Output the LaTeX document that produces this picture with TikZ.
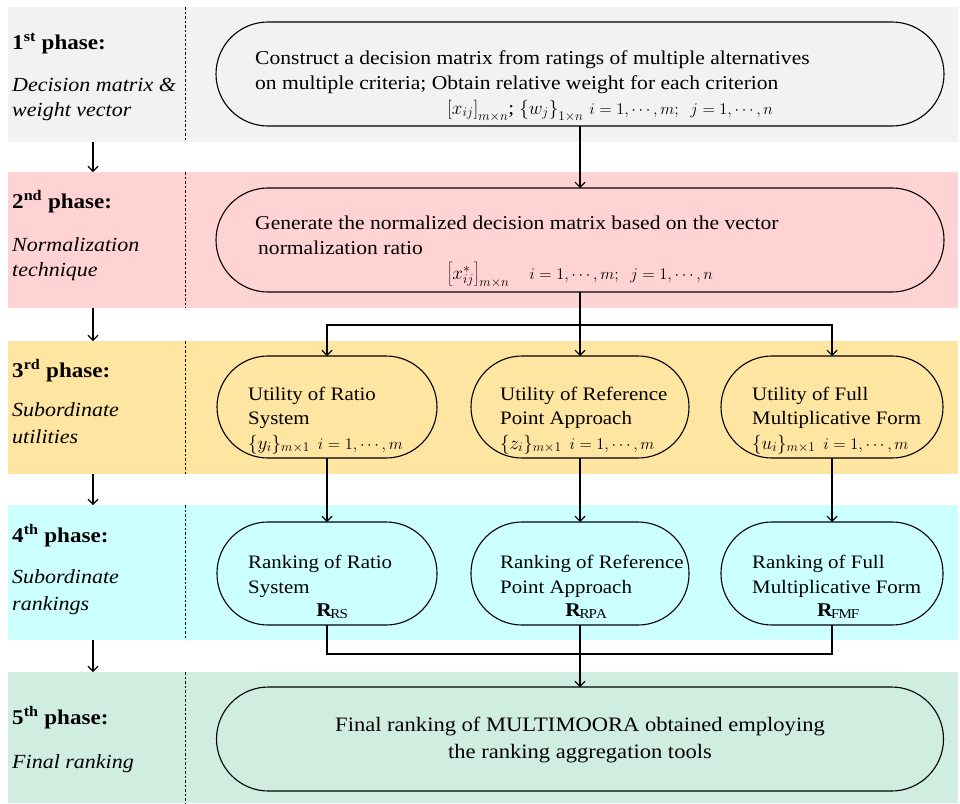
\RequirePackage{fix-cm}
\documentclass[tikz,border=0pt]{standalone}
\usepackage{fontspec}
\setmainfont{Liberation Serif}[FakeStretch=1.1]
\usetikzlibrary{arrows.meta}
\definecolor{bandgrey}{HTML}{F2F2F2}
\definecolor{bandpink}{HTML}{FFD3D4}
\definecolor{bandyellow}{HTML}{FFE5A2}
\definecolor{bandcyan}{HTML}{CCFFFF}
\definecolor{bandgreen}{HTML}{CFEEDF}
\newcommand{\idxsize}{\fontsize{16.3}{19}\selectfont}
\begin{document}
\begin{tikzpicture}[x=1pt,y=-1pt,
  band/.style={draw=none,inner sep=0pt,outer sep=0pt,anchor=north west,
    minimum width=950pt},
  pill/.style={draw=black,line width=1.1pt,inner sep=0pt,outer sep=0pt,
    rounded corners=#1},
  phase/.style={anchor=base west,inner sep=0pt,
    font=\fontsize{21}{24}\selectfont\bfseries},
  phasedesc/.style={anchor=base west,inner sep=0pt,
    font=\fontsize{20}{24}\selectfont\itshape},
  txt/.style={anchor=base west,inner sep=0pt,
    font=\fontsize{19}{22}\selectfont},
  wtxt/.style={txt,font=\fontsize{19.6}{22}\selectfont},
  mth/.style={anchor=base west,inner sep=0pt,
    font=\fontsize{19}{22}\selectfont},
  rlab/.style={anchor=base,inner sep=0pt,
    font=\fontsize{19.5}{22}\selectfont},
  conn/.style={line width=1.1pt},
  arr/.style={conn,-{Straight Barb[length=5pt,width=10pt]}},
  sep/.style={line width=0.6pt,dash pattern=on 2.5pt off 2pt}
]
\useasboundingbox (0,0) rectangle (960,803);

% phase bands
\node[band,fill=bandgrey,minimum height=135pt] (b1) at (8,7) {};
\node[band,fill=bandpink,minimum height=136pt] (b2) at (8,172) {};
\node[band,fill=bandyellow,minimum height=133pt] (b3) at (8,341) {};
\node[band,fill=bandcyan,minimum height=135pt] (b4) at (8,505) {};
\node[band,fill=bandgreen,minimum height=131pt] (b5) at (8,672) {};

% dashed separators between the label column and the flow column
\coordinate (dx) at (185,0);
\foreach \b in {b1,b2,b3,b4,b5}
  \draw[sep] (\b.north -| dx) -- (\b.south -| dx);

% arrows down the label column
\coordinate (lx) at (93,0);
\draw[arr] (b1.south -| lx) -- (b2.north -| lx);
\draw[arr] (b2.south -| lx) -- (b3.north -| lx);
\draw[arr] (b3.south -| lx) -- (b4.north -| lx);
\draw[arr] (b4.south -| lx) -- (b5.north -| lx);

% phase labels
\node[phase] (p1) at (12,49) {1\textsuperscript{st} phase:};
\node[phasedesc] (p1a) at (12,91) {Decision matrix \&};
\node[phasedesc] (p1b) at (12,116) {weight vector};

\node[phase] (p2) at (12,208) {2\textsuperscript{nd} phase:};
\node[phasedesc] (p2a) at (12,251) {Normalization};
\node[phasedesc] (p2b) at (12,276) {technique};

\node[phase] (p3) at (12,377) {3\textsuperscript{rd} phase:};
\node[phasedesc] (p3a) at (12,416) {Subordinate};
\node[phasedesc] (p3b) at (12,443) {utilities};

\node[phase] (p4) at (12,542) {4\textsuperscript{th} phase:};
\node[phasedesc] (p4a) at (12,583) {Subordinate};
\node[phasedesc] (p4b) at (12,610) {rankings};

\node[phase] (p5) at (12,724) {5\textsuperscript{th} phase:};
\node[phasedesc] (p5a) at (12,768) {Final ranking};

% process boxes
\node[pill=52pt,fill=bandgrey,minimum width=728pt,minimum height=104pt] (dm) at (580,74) {};
\node[pill=52pt,fill=bandpink,minimum width=728pt,minimum height=104pt] (nm) at (580,240) {};

\node[pill=51pt,fill=bandyellow,minimum width=220pt,minimum height=102pt] (ua) at (327,407) {};
\node[pill=51pt,fill=bandyellow,minimum width=218pt,minimum height=102pt] (ub) at (580,407) {};
\node[pill=51pt,fill=bandyellow,minimum width=222pt,minimum height=102pt] (uc) at (832,407) {};

\node[pill=51pt,fill=bandcyan,minimum width=220pt,minimum height=103pt] (ra) at (327,573.5) {};
\node[pill=51pt,fill=bandcyan,minimum width=218pt,minimum height=103pt] (rb) at (580,573.5) {};
\node[pill=51pt,fill=bandcyan,minimum width=222pt,minimum height=103pt] (rc) at (832,573.5) {};

\node[pill=52pt,fill=bandgreen,minimum width=727pt,minimum height=104pt] (fr) at (580,739) {};

% box texts
\node[wtxt] (dm1) at (255,64) {Construct a decision matrix from ratings of multiple alternatives};
\node[wtxt] (dm2) at (255,89) {on multiple criteria; Obtain relative weight for each criterion};
\node[mth] (dm3) at (447,114) {$\left[x_{ij}\right]_{m\times n}$; $\left\{w_j\right\}_{1\times n}$\hspace{6pt}{\idxsize $i=1,\cdots,m;\ \ j=1,\cdots,n$}};

\node[wtxt] (nm1) at (255,229) {Generate the normalized decision matrix based on the vector};
\node[wtxt] (nm2) at (258,254) {normalization ratio};
\node[mth] (nm3) at (447,279) {$\left[x^{*}_{ij}\right]_{m\times n}$\hspace{20pt}{\idxsize $i=1,\cdots,m;\ \ j=1,\cdots,n$}};

\node[txt] (ua1) at (248,400) {Utility of Ratio};
\node[txt] (ua2) at (248,424) {System};
\node[mth] (ua3) at (248,449) {$\{y_i\}_{m\times 1}$\hspace{8pt}{\idxsize $i=1,\cdots,m$}};

\node[txt] (ub1) at (500,400) {Utility of Reference};
\node[txt] (ub2) at (500,424) {Point Approach};
\node[mth] (ub3) at (500,449) {$\{z_i\}_{m\times 1}$\hspace{8pt}{\idxsize $i=1,\cdots,m$}};

\node[txt] (uc1) at (752,400) {Utility of Full};
\node[txt] (uc2) at (752,424) {Multiplicative Form};
\node[mth] (uc3) at (752,449) {$\{u_i\}_{m\times 1}$\hspace{8pt}{\idxsize $i=1,\cdots,m$}};

\node[txt] (ra1) at (248,568) {Ranking of Ratio};
\node[txt] (ra2) at (248,593) {System};
\node[rlab] (ra3) at (332,616) {$\mathbf{R}_{\mathrm{RS}}$};

\node[txt] (rb1) at (500,568) {Ranking of Reference};
\node[txt] (rb2) at (500,593) {Point Approach};
\node[rlab] (rb3) at (586,616) {$\mathbf{R}_{\mathrm{RPA}}$};

\node[txt] (rc1) at (752,568) {Ranking of Full};
\node[txt] (rc2) at (752,593) {Multiplicative Form};
\node[rlab] (rc3) at (838,616) {$\mathbf{R}_{\mathrm{FMF}}$};

\node[anchor=base,inner sep=0pt,font=\fontsize{20.5}{24}\selectfont] (fr1) at (580,731) {Final ranking of MULTIMOORA obtained employing};
\node[anchor=base,inner sep=0pt,font=\fontsize{20.5}{24}\selectfont] (fr2) at (580,758) {the ranking aggregation tools};

% flow connectors
\draw[arr] (dm.south) -- (nm.north);
\coordinate (split) at (580,325);
\draw[conn] (nm.south) -- (split);
\draw[arr] (split) -| (ua.north);
\draw[arr] (split) -- (ub.north);
\draw[arr] (split) -| (uc.north);

\draw[arr] (ua.south) -- (ra.north);
\draw[arr] (ub.south) -- (rb.north);
\draw[arr] (uc.south) -- (rc.north);

\coordinate (merge) at (580,654);
\draw[conn] (ra.south) |- (merge);
\draw[conn] (rc.south) |- (merge);
\draw[arr] (rb.south) -- (fr.north);
\end{tikzpicture}
\end{document}
